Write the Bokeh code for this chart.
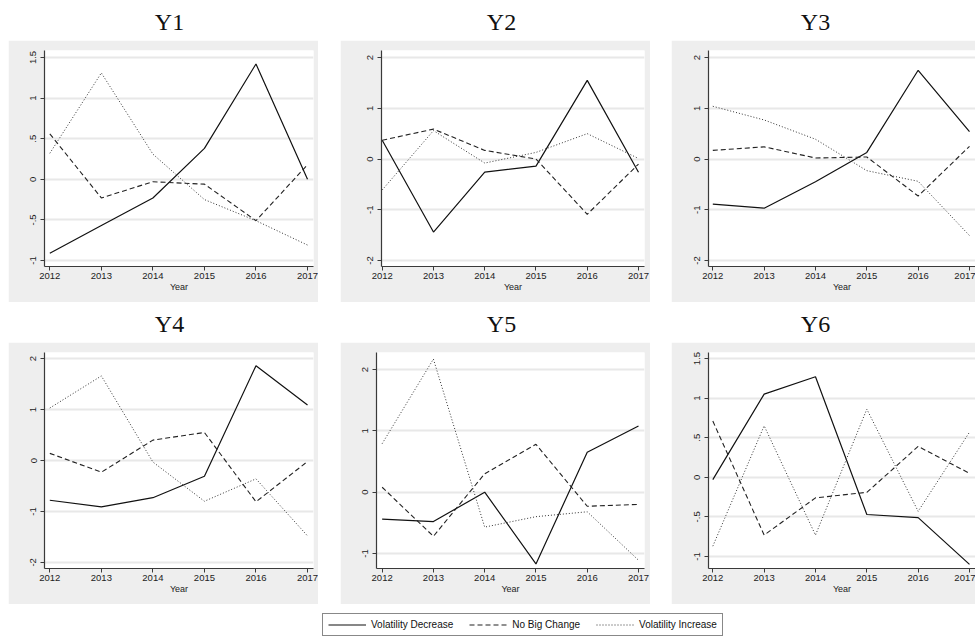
from bokeh.plotting import figure
from bokeh.layouts import column, row
from bokeh.models import (Range1d, FixedTicker, Label, Legend, LegendItem, Spacer)
from bokeh.embed import file_html
from bokeh.resources import INLINE

# ---- data -------------------------------------------------------------
years = [2012, 2013, 2014, 2015, 2016, 2017]
panel_titles = ["Y1", "Y2", "Y3", "Y4", "Y5", "Y6"]
series_labels = ["Volatility Decrease", "No Big Change", "Volatility Increase"]

y1_decrease = [-0.91, -0.57, -0.23, 0.38, 1.42, 0.00]
y1_nochange = [0.56, -0.23, -0.03, -0.06, -0.51, 0.18]
y1_increase = [0.32, 1.31, 0.31, -0.25, -0.51, -0.81]

y2_decrease = [0.37, -1.44, -0.26, -0.14, 1.55, -0.26]
y2_nochange = [0.37, 0.59, 0.17, 0.00, -1.09, -0.10]
y2_increase = [-0.61, 0.56, -0.08, 0.13, 0.50, 0.01]

y3_decrease = [-0.89, -0.97, -0.45, 0.13, 1.75, 0.54]
y3_nochange = [0.17, 0.24, 0.02, 0.04, -0.73, 0.25]
y3_increase = [1.04, 0.77, 0.39, -0.23, -0.44, -1.51]

y4_decrease = [-0.78, -0.91, -0.73, -0.31, 1.86, 1.09]
y4_nochange = [0.14, -0.23, 0.40, 0.55, -0.81, -0.02]
y4_increase = [1.03, 1.66, -0.03, -0.80, -0.36, -1.48]

y5_decrease = [-0.44, -0.48, 0.00, -1.17, 0.65, 1.08]
y5_nochange = [0.08, -0.72, 0.30, 0.78, -0.23, -0.20]
y5_increase = [0.79, 2.17, -0.57, -0.40, -0.32, -1.11]

y6_decrease = [-0.03, 1.05, 1.27, -0.47, -0.51, -1.10]
y6_nochange = [0.71, -0.73, -0.26, -0.19, 0.39, 0.05]
y6_increase = [-0.87, 0.65, -0.73, 0.86, -0.43, 0.57]

y_ticks = [
    [-1, -0.5, 0, 0.5, 1, 1.5],
    [-2, -1, 0, 1, 2],
    [-2, -1, 0, 1, 2],
    [-2, -1, 0, 1, 2],
    [-1, 0, 1, 2],
    [-1, -0.5, 0, 0.5, 1, 1.5],
]
y_tick_text = {-2: "-2", -1.5: "-1.5", -1: "-1", -0.5: "-.5", 0: "0",
               0.5: ".5", 1: "1", 1.5: "1.5", 2: "2"}

all_series = [
    (y1_decrease, y1_nochange, y1_increase),
    (y2_decrease, y2_nochange, y2_increase),
    (y3_decrease, y3_nochange, y3_increase),
    (y4_decrease, y4_nochange, y4_increase),
    (y5_decrease, y5_nochange, y5_increase),
    (y6_decrease, y6_nochange, y6_increase),
]

# ---- layout / style ---------------------------------------------------
PANEL_BG = "#eeeeee"
GRID = "#e8e8e8"
AXIS = "#3a3a3a"
SANS = "Liberation Sans"
SERIF = "Liberation Serif"

line_styles = [
    dict(line_dash="solid", line_width=1.2, line_color="#111111"),
    dict(line_dash="5 3", line_width=1.1, line_color="#222222"),
    dict(line_dash="1 2", line_width=1.0, line_color="#333333"),
]

# per panel: figure width, left border, right border, x-range, y-range
panel_geom = [
    dict(w=310, left=36, right=5, xr=(2011.897, 2017.116), yr=(-1.074, 1.586)),
    dict(w=310, left=41, right=6, xr=(2011.986, 2017.117), yr=(-2.12, 2.14)),
    dict(w=304, left=37, right=0, xr=(2011.916, 2017.117), yr=(-2.12, 2.14)),
    dict(w=310, left=36, right=5, xr=(2011.897, 2017.116), yr=(-2.12, 2.12)),
    dict(w=310, left=36, right=6, xr=(2011.890, 2017.117), yr=(-1.245, 2.277)),
    dict(w=304, left=37, right=0, xr=(2011.916, 2017.117), yr=(-1.152, 1.576)),
]


def make_panel(i):
    g = panel_geom[i]
    p = figure(width=g["w"], height=262, toolbar_location=None,
               output_backend="svg",
               x_range=Range1d(*g["xr"]), y_range=Range1d(*g["yr"]),
               min_border_left=g["left"], min_border_right=g["right"],
               min_border_top=10, min_border_bottom=36)
    p.background_fill_color = "white"
    p.border_fill_color = PANEL_BG
    p.outline_line_color = None

    for ys, st in zip(all_series[i], line_styles):
        p.line(years, ys, **st)

    p.xaxis.ticker = FixedTicker(ticks=years)
    p.yaxis.ticker = FixedTicker(ticks=y_ticks[i])
    p.yaxis.major_label_overrides = {v: y_tick_text[v] for v in y_ticks[i]}
    p.yaxis.major_label_orientation = "vertical"
    p.xaxis.axis_label = "Year"
    p.xaxis.axis_label_text_font = SANS
    p.xaxis.axis_label_text_font_size = "9px"
    p.xaxis.axis_label_text_font_style = "normal"
    p.xaxis.axis_label_text_color = "#222222"
    p.xaxis.axis_label_standoff = 0
    for ax in (p.xaxis, p.yaxis):
        ax.axis_line_color = AXIS
        ax.axis_line_width = 1.2
        ax.major_tick_line_color = AXIS
        ax.major_tick_in = 0
        ax.major_tick_out = 4
        ax.minor_tick_line_color = None
        ax.major_label_text_font = SANS
        ax.major_label_text_font_size = "9.5px"
        ax.major_label_text_color = "#222222"
    p.xaxis.major_label_standoff = 2
    p.yaxis.major_label_standoff = 4

    p.xgrid.visible = False
    p.ygrid.grid_line_color = GRID
    p.ygrid.grid_line_width = 2
    return p


def make_title_strip(names, centers):
    t = figure(width=975, height=40, toolbar_location=None, output_backend="svg",
               x_range=Range1d(0, 975), y_range=Range1d(0, 40), min_border=0)
    t.axis.visible = False
    t.grid.visible = False
    t.outline_line_color = None
    t.border_fill_color = "white"
    t.background_fill_color = "white"
    for name, cx in zip(names, centers):
        t.add_layout(Label(x=cx, y=19, text=name, text_align="center",
                           text_baseline="middle", text_font=SERIF,
                           text_font_size="24px", text_color="#111111"))
    return t


panels = [make_panel(i) for i in range(6)]
title_centers = [169, 501, 815]

row1 = row(Spacer(width=8, height=262), panels[0], Spacer(width=22, height=262),
           panels[1], Spacer(width=21, height=262), panels[2])
row2 = row(Spacer(width=8, height=262), panels[3], Spacer(width=22, height=262),
           panels[4], Spacer(width=21, height=262), panels[5])

# ---- shared legend ----------------------------------------------------
# The legend lives in its own strip; its renderers sit outside the visible
# range so only their legend swatches are drawn.
lg = figure(width=405, height=32, toolbar_location=None, output_backend="svg",
            x_range=Range1d(0, 1), y_range=Range1d(0, 1),
            min_border_left=0, min_border_right=0, min_border_top=9,
            min_border_bottom=0)
lg.axis.visible = False
lg.grid.visible = False
lg.outline_line_color = None
lg.border_fill_color = "white"
lg.background_fill_color = "white"
items = []
for lab, st in zip(series_labels, line_styles):
    r = lg.line([2.0, 3.0], [2.0, 2.0], **st)
    items.append(LegendItem(label=lab, renderers=[r]))
legend = Legend(items=items, orientation="horizontal", location="top_left",
                margin=0, padding=5, spacing=16, glyph_width=38,
                glyph_height=11, label_height=11, label_standoff=5,
                label_text_font=SANS, label_text_font_size="10px",
                label_text_color="#111111",
                border_line_color="#111111", border_line_width=1,
                background_fill_color="white", background_fill_alpha=1.0)
lg.add_layout(legend, "center")

legend_row = row(Spacer(width=322, height=32), lg)

layout = column(make_title_strip(panel_titles[:3], title_centers), row1,
                make_title_strip(panel_titles[3:], title_centers), row2,
                legend_row)

open("out.html", "w").write(file_html(layout, INLINE))
